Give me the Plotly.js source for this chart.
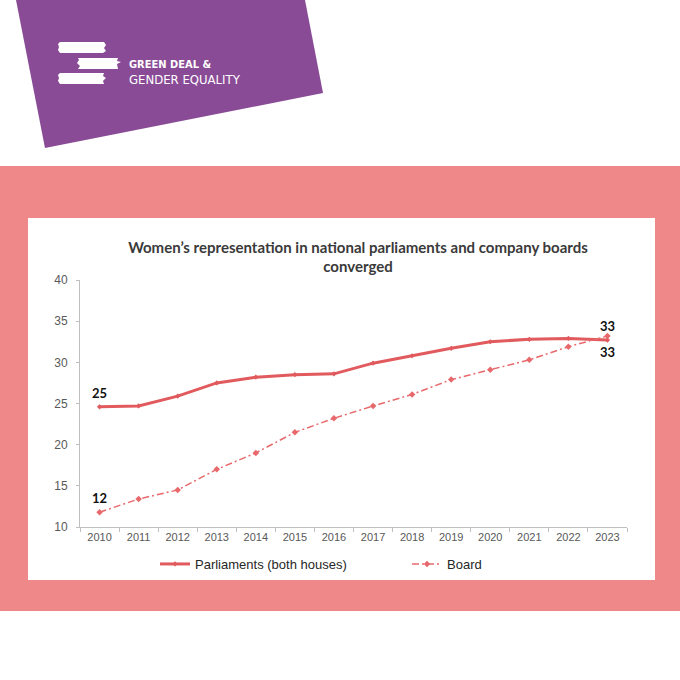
<!DOCTYPE html>
<html>
<head>
<meta charset="utf-8">
<script src="https://cdn.plot.ly/plotly-3.0.1.min.js"></script>
<style>
  html, body { margin: 0; padding: 0; background: #ffffff; overflow: hidden; width: 680px; height: 680px; }
  #chart { width: 680px; height: 680px; display: block; overflow: hidden; }
</style>
</head>
<body>
<div id="chart"></div>
<script>
// ---- data ----
const years = ["2010","2011","2012","2013","2014","2015","2016","2017","2018","2019","2020","2021","2022","2023"];
const parliaments = [24.6, 24.7, 25.9, 27.5, 28.2, 28.5, 28.6, 29.9, 30.8, 31.7, 32.5, 32.8, 32.9, 32.7];
const board = [11.8, 13.4, 14.5, 17.0, 19.0, 21.5, 23.2, 24.7, 26.1, 27.9, 29.1, 30.3, 31.9, 33.2];
const seriesNames = ["Parliaments (both houses)", "Board"];
const labelPoints = [
  {series: "parliaments", idx: 0, text: "25", pos: "above"},
  {series: "board", idx: 0, text: "12", pos: "above"},
  {series: "board", idx: 13, text: "33", pos: "above"},
  {series: "parliaments", idx: 13, text: "33", pos: "below"}
];
const chartTitle = "Women’s representation in national parliaments and company boards<br>converged";
const logoLine1 = "GREEN DEAL &";
const logoLine2 = "GENDER EQUALITY";

// ---- geometry helpers (pixel -> paper) ----
const W = 680, H = 680;
const M = {l: 80, r: 53, t: 280, b: 153, autoexpand: false};
const PW = W - M.l - M.r, PH = H - M.t - M.b;
const px = x => (x - M.l) / PW;
const py = y => (H - M.b - y) / PH;

const lineColor = "#E15A5D";
const boardColor = "#E8696C";
const pink = "#EE8889";
const purple = "#8A4B96";

const traces = [
  {
    x: years, y: parliaments, name: seriesNames[0], type: "scatter", mode: "lines+markers",
    line: {color: lineColor, width: 3},
    marker: {symbol: "diamond", size: 4, color: lineColor},
    hoverinfo: "x+y"
  },
  {
    x: years, y: board, name: seriesNames[1], type: "scatter", mode: "lines+markers",
    line: {color: boardColor, width: 1.5, dash: "7px,3px,2px,3px"},
    marker: {symbol: "diamond", size: 5, color: boardColor},
    hoverinfo: "x+y"
  }
];

const seriesMap = {parliaments: parliaments, board: board};
const annotations = labelPoints.map(p => ({
  x: p.idx, y: seriesMap[p.series][p.idx], xref: "x", yref: "y",
  text: "<b>" + p.text + "</b>", showarrow: false,
  xanchor: "center", yanchor: "middle",
  yshift: p.pos === "above" ? (p.idx === 13 ? 10 : 14) : -12,
  font: {family: "Lato, 'Open Sans', sans-serif", size: 13, color: "#111111"}
}));

// logo text
annotations.push({
  xref: "paper", yref: "paper", x: px(127), y: py(64), xanchor: "left", yanchor: "middle",
  text: "<b>" + logoLine1 + "</b>", showarrow: false,
  font: {family: "'DejaVu Sans Condensed', 'Liberation Sans Narrow', sans-serif", size: 11, color: "#ffffff"}
});
annotations.push({
  xref: "paper", yref: "paper", x: px(127), y: py(80), xanchor: "left", yanchor: "middle",
  text: logoLine2, showarrow: false,
  font: {family: "'DejaVu Sans Condensed', 'Liberation Sans Narrow', sans-serif", size: 13, color: "#ffffff"}
});

function rectPx(x0, y0, x1, y1, color) {
  return {type: "rect", xref: "paper", yref: "paper", layer: "below",
    x0: px(x0), x1: px(x1), y0: py(y1), y1: py(y0),
    fillcolor: color, line: {width: 0}};
}
function pathPx(points, color) {
  const d = points.map((p, i) => (i ? "L" : "M") + px(p[0]).toFixed(5) + "," + py(p[1]).toFixed(5)).join(" ") + " Z";
  return {type: "path", xref: "paper", yref: "paper", layer: "below", path: d,
    fillcolor: color, line: {width: 0}};
}

const shapes = [
  rectPx(0, 166, 680, 611, pink),
  rectPx(28, 218, 655, 580, "#ffffff"),
  pathPx([[16, 0], [305, 0], [323, 93], [45, 148]], purple),
  // brush strokes of the logo
  pathPx([[60, 42], [104, 42], [106, 45], [104, 48], [106, 51], [103, 53], [60, 53], [58, 50], [59, 47], [58, 44]], "#ffffff"),
  pathPx([[78, 58], [118, 58], [117, 61], [121, 62], [117, 64], [118, 69], [78, 69], [80, 66], [77, 63], [79, 60]], "#ffffff"),
  pathPx([[60, 73], [104, 73], [103, 76], [106, 78], [103, 81], [104, 84], [60, 84], [58, 81], [59, 78], [58, 75]], "#ffffff")
];

const layout = {
  width: W, height: H,
  margin: M,
  paper_bgcolor: "#ffffff",
  plot_bgcolor: "rgba(0,0,0,0)",
  showlegend: true,
  title: {
    text: chartTitle,
    x: 358 / W, xref: "container", xanchor: "center",
    y: 1 - 252.5 / H, yref: "container", yanchor: "middle",
    font: {family: "Lato, 'Open Sans', sans-serif", size: 15, color: "#3A3A3A", weight: "bold"}
  },
  xaxis: {
    type: "category", range: [-0.5, 13.5],
    showline: true, linecolor: "#BFBFBF", linewidth: 1,
    ticks: "outside", tickson: "boundaries", ticklen: 4, tickcolor: "#BFBFBF",
    showgrid: false, zeroline: false, fixedrange: true,
    tickfont: {family: "'Liberation Sans', Arial, sans-serif", size: 11, color: "#595959"}
  },
  yaxis: {
    range: [10, 40], dtick: 5, tick0: 10,
    showline: true, linecolor: "#BFBFBF", linewidth: 1,
    ticks: "outside", ticklen: 3, tickcolor: "#BFBFBF",
    ticklabelstandoff: 6,
    showgrid: false, zeroline: false, fixedrange: true,
    tickfont: {family: "'Liberation Sans', Arial, sans-serif", size: 12, color: "#595959"}
  },
  legend: {
    orientation: "h", x: px(155), xanchor: "left", y: py(564), yanchor: "middle",
    entrywidth: 207, entrywidthmode: "pixels",
    bgcolor: "rgba(0,0,0,0)",
    font: {family: "'Liberation Sans', Arial, sans-serif", size: 13, color: "#262626"}
  },
  shapes: shapes,
  annotations: annotations
};

Plotly.newPlot("chart", traces, layout, {displayModeBar: false, staticPlot: true});
</script>
</body>
</html>
